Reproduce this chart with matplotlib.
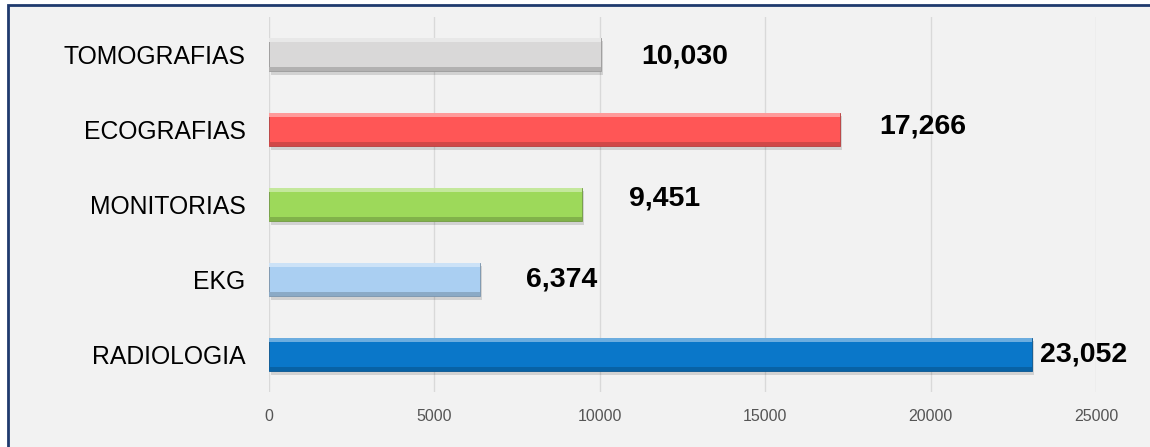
#!/usr/bin/env python3
"""Horizontal bar chart: studies per imaging service."""

import matplotlib
matplotlib.use("Agg")
import matplotlib.pyplot as plt
import matplotlib.patheffects as pe
from matplotlib.colors import to_rgb
from matplotlib.patches import Rectangle

# ── data ────────────────────────────────────────────────────────────────
categories = ["RADIOLOGIA", "EKG", "MONITORIAS", "ECOGRAFIAS", "TOMOGRAFIAS"]
values = [23052, 6374, 9451, 17266, 10030]
value_labels = ["23,052", "6,374", "9,451", "17,266", "10,030"]
xticks = [0, 5000, 10000, 15000, 20000, 25000]

# styling
bar_colors = ["#0a77c9", "#aacff2", "#9dd95a", "#ff5656", "#d9d8d8"]
label_dx = [8, 46, 47, 39, 40]     # pixel offsets of the value labels
label_dy = [0, 0, 6, 3, -2]


def mix(c, other, t):
    c, o = to_rgb(c), to_rgb(other)
    return tuple(a + (b - a) * t for a, b in zip(c, o))


plt.rcParams["font.family"] = ["Liberation Sans", "DejaVu Sans"]

fig = plt.figure(figsize=(11.5, 4.47), dpi=100)
fig.patch.set_facecolor("white")

# grey panel with the navy frame on top/left
fig.patches.append(Rectangle((8 / 1150, -0.1), 1.2, 1 - 5 / 447 + 0.1,
                             transform=fig.transFigure, facecolor="#f2f2f2",
                             edgecolor="#1f3a6e", linewidth=2, zorder=-10))

ax = fig.add_axes([269 / 1150, 1 - 392 / 447, (1096 - 269) / 1150, 375 / 447])
ax.set_facecolor("none")

y = list(range(len(categories)))
h = 0.45

bars = ax.barh(y, values, height=h, color=bar_colors, zorder=3,
               edgecolor=[mix(c, "black", 0.3) for c in bar_colors], linewidth=0.6)
for b in bars:
    b.set_path_effects([pe.SimplePatchShadow(offset=(1.5, -2.5), shadow_rgbFace="black", alpha=0.13),
                        pe.Normal()])

# bevel: light strip on top, darker strip at bottom
strip = 0.06
ax.barh([yy + h / 2 - strip / 2 for yy in y], values, height=strip,
        color=[mix(c, "white", 0.4) for c in bar_colors], zorder=4, linewidth=0)
ax.barh([yy - h / 2 + strip / 2 for yy in y], values, height=strip,
        color=[mix(c, "black", 0.18) for c in bar_colors], zorder=4, linewidth=0)

for yy, v, lbl, dx, dy in zip(y, values, value_labels, label_dx, label_dy):
    ax.annotate(lbl, (v, yy), xytext=(dx, dy), textcoords="offset pixels",
                ha="left", va="center", fontsize=20.5, fontweight="bold", color="black")

ax.set_xlim(0, 25000)
ax.set_ylim(-0.5, len(categories) - 0.5)
ax.set_xticks(xticks)
ax.set_xticklabels([str(t) for t in xticks])
ax.set_yticks(y)
ax.set_yticklabels(categories)
ax.tick_params(axis="y", length=0, pad=17, labelsize=17.8, labelcolor="black")
ax.tick_params(axis="x", length=0, pad=12, labelsize=11.5, labelcolor="#555555")
ax.grid(axis="x", color="#d9d9d9", linewidth=1, zorder=0)
for s in ax.spines.values():
    s.set_visible(False)

fig.savefig("out.png", dpi=100, facecolor=fig.get_facecolor())
